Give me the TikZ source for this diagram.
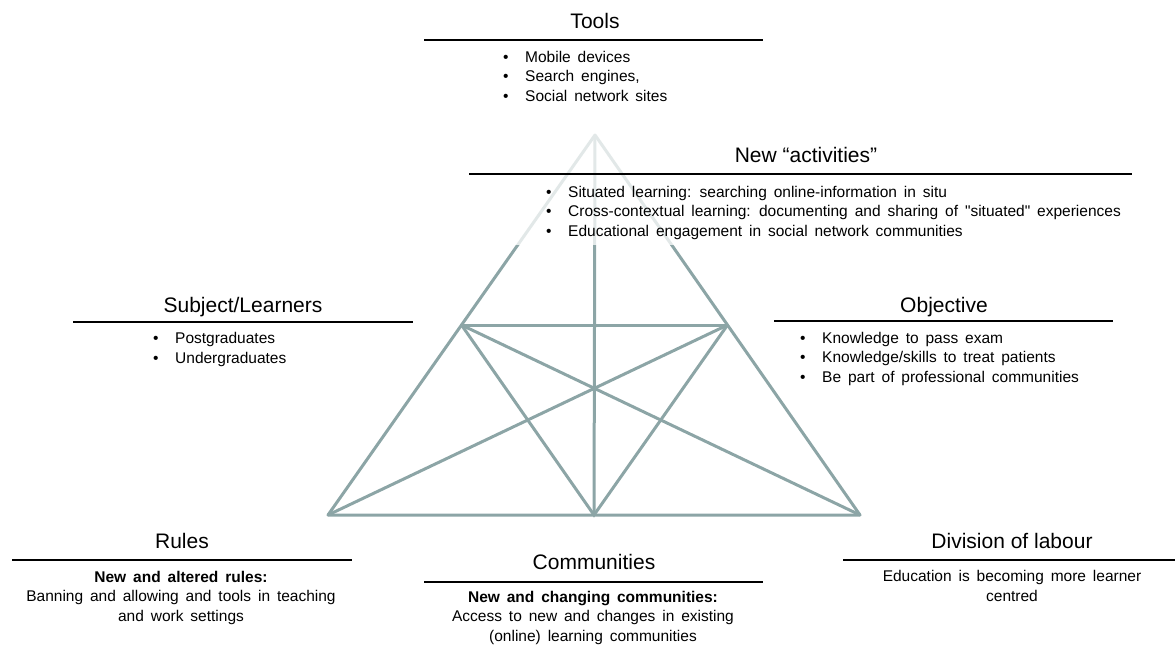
\documentclass[tikz,border=0pt]{standalone}
\usepackage{fontspec}
\setmainfont{Liberation Sans}
\newfontfamily\bodyfont{Liberation Sans}[WordSpace=1.6]
\usetikzlibrary{calc}
\definecolor{trigrey}{RGB}{140,165,166}
\tikzset{
  title/.style={anchor=base, inner sep=0pt, font=\fontsize{21}{25}\selectfont},
  body/.style={anchor=base west, inner sep=0pt, align=left, font=\bodyfont\fontsize{15.5}{19.5}\selectfont},
  centrebody/.style={anchor=base, inner sep=0pt, align=center, font=\bodyfont\fontsize{15.5}{19.5}\selectfont},
  rule/.style={line width=1.6pt, black},
  edge/.style={line width=3pt, trigrey}
}
\newcommand{\itm}{\makebox[22pt][l]{\textbullet}}
\begin{document}
\begin{tikzpicture}[x=1pt, y=-1pt]
  \useasboundingbox (0,0) rectangle (1175,646);

  % the triangle
  \coordinate (apex) at (595,135);
  \coordinate (bl) at (328,515);
  \coordinate (br) at (860,515);
  \coordinate (ml) at ($(apex)!0.5!(bl)$);
  \coordinate (mr) at ($(apex)!0.5!(br)$);
  \coordinate (mb) at ($(bl)!0.5!(br)$);
  \draw [edge, line join=round] (apex) -- (bl) -- (br) -- cycle;
  \draw [edge] (ml) -- (mr);
  \draw [edge] (apex) -- (mb);
  \draw [edge] (ml) -- (mb) -- (mr);
  \draw [edge] (bl) -- (mr);
  \draw [edge] (br) -- (ml);

  % pale box behind the activities
  \fill [white, fill opacity=0.75] (466,128) rectangle (1136,245);

  % tools (body nodes sit on the baseline of their last line)
  \node [title] (tools) at (595,28) {Tools};
  \draw [rule] (424,40) coordinate (toolsa) -- (763,40) coordinate (toolsb);
  \node [body] (toolslist) at (503,101)
    {\itm Mobile devices\\ \itm Search engines,\\ \itm Social network sites};

  % activities
  \node [title] (acts) at (806,162) {New “activities”};
  \draw [rule] (469,174) coordinate (actsa) -- (1132,174) coordinate (actsb);
  \node [body] (actslist) at (546,236)
    {\itm Situated learning: searching online-information in situ\\
     \itm Cross-contextual learning: documenting and sharing of "situated" experiences\\
     \itm Educational engagement in social network communities};

  % subject
  \node [title] (subj) at (243,312) {Subject/Learners};
  \draw [rule] (73,322) coordinate (subja) -- (413,322) coordinate (subjb);
  \node [body] (subjlist) at (153,363) {\itm Postgraduates\\ \itm Undergraduates};

  % objective
  \node [title] (obj) at (944,312) {Objective};
  \draw [rule] (774,321) coordinate (obja) -- (1113,321) coordinate (objb);
  \node [body] (objlist) at (800,382)
    {\itm Knowledge to pass exam\\ \itm Knowledge/skills to treat patients\\
     \itm Be part of professional communities};

  % rules
  \node [title] (rules) at (182,548) {Rules};
  \draw [rule] (12,560) coordinate (rulesa) -- (352,560) coordinate (rulesb);
  \node [centrebody] (ruleslist) at (181,621)
    {\textbf{New and altered rules:}\\ Banning and allowing and tools in teaching\\ and work settings};

  % communities
  \node [title] (comm) at (594,569) {Communities};
  \draw [rule] (424,582) coordinate (comma) -- (763,582) coordinate (commb);
  \node [centrebody] (commlist) at (593,641)
    {\textbf{New and changing communities:}\\ Access to new and changes in existing\\ (online) learning communities};

  % division of labour
  \node [title] (div) at (1012,548) {Division of labour};
  \draw [rule] (843,560) coordinate (diva) -- (1175,560) coordinate (divb);
  \node [centrebody] (divlist) at (1012,601)
    {Education is becoming more learner\\ centred};
\end{tikzpicture}
\end{document}
